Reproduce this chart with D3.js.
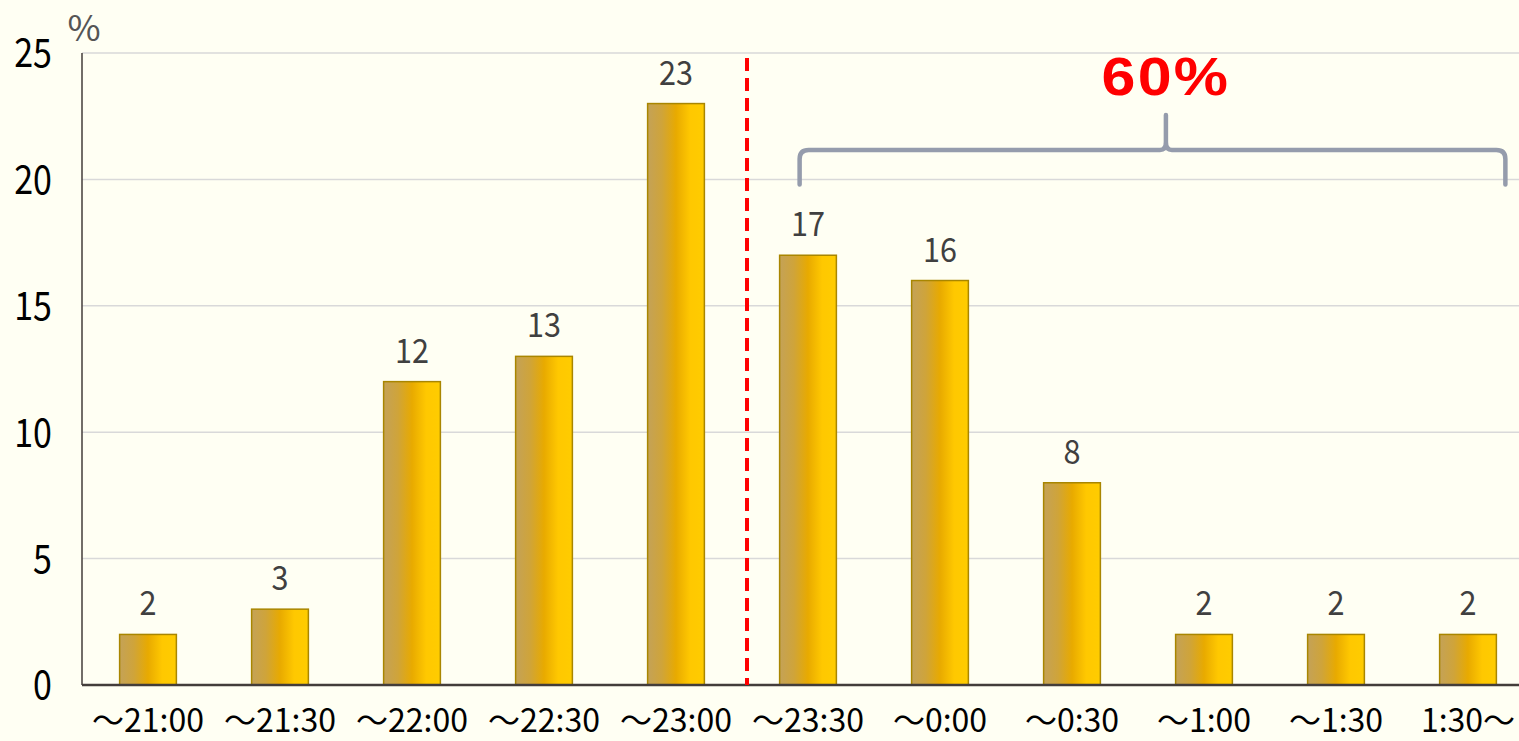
<!DOCTYPE html>
<html>
<head>
<meta charset="utf-8">
<script src="https://cdn.jsdelivr.net/npm/d3@7/dist/d3.min.js"></script>
<style>
  html, body { margin: 0; padding: 0; background: #fffff3; overflow: hidden; }
  svg { display: block; }
</style>
</head>
<body>
<svg id="chart" width="1519" height="741"></svg>
<script>
// Bedtime distribution (%)
const categories = ["～21:00", "～21:30", "～22:00", "～22:30", "～23:00", "～23:30", "～0:00", "～0:30", "～1:00", "～1:30", "1:30～"];
const values = [2, 3, 12, 13, 23, 17, 16, 8, 2, 2, 2];
const yTicks = [0, 5, 10, 15, 20, 25];
const bracketLabel = "60%";
const bracketFrom = 5;   // index of first category in the bracket
const dividerAfter = 4;  // dashed line after this category

const svg = d3.select("#chart");
const W = 1519, H = 741;
const plotLeft = 82, plotRight = 1534, plotTop = 53, plotBottom = 685;

const x = d3.scaleBand().domain(categories).range([plotLeft, plotRight]).paddingInner(0.57).paddingOuter(0.285);
const y = d3.scaleLinear().domain([0, 25]).range([plotBottom, plotTop]);

const font = "'Noto Sans CJK JP', 'Noto Sans', sans-serif";
const cx = d => x(d) + x.bandwidth() / 2;

// horizontally condensed text around an anchor x
const squeeze = (ax, s) => `translate(${ax * (1 - s)},0) scale(${s},1)`;

// gradient for bars
const defs = svg.append("defs");
const grad = defs.append("linearGradient").attr("id", "barGrad").attr("x1", "0").attr("x2", "1").attr("y1", "0").attr("y2", "0");
grad.append("stop").attr("offset", "0%").attr("stop-color", "#c4a257");
grad.append("stop").attr("offset", "25%").attr("stop-color", "#cfa43a");
grad.append("stop").attr("offset", "50%").attr("stop-color", "#e8aa00");
grad.append("stop").attr("offset", "75%").attr("stop-color", "#ffc800");
grad.append("stop").attr("offset", "100%").attr("stop-color", "#ffcc00");

// gridlines
svg.append("g").selectAll("line").data(yTicks.filter(d => d > 0)).join("line")
  .attr("x1", plotLeft).attr("x2", W)
  .attr("y1", d => y(d)).attr("y2", d => y(d))
  .attr("stroke", "#d9d9d9").attr("stroke-width", 1.5);

// y tick labels
svg.append("g").selectAll("text").data(yTicks).join("text")
  .attr("x", 52).attr("y", d => y(d)).attr("dy", "0.36em")
  .attr("text-anchor", "end")
  .attr("font-family", font).attr("font-size", 40)
  .attr("fill", "#000")
  .attr("transform", squeeze(52, 0.85))
  .text(d => d);

// unit label
svg.append("text").attr("x", 84).attr("y", 41).attr("text-anchor", "middle")
  .attr("font-family", font).attr("font-size", 36).attr("fill", "#555")
  .text("%");

// bars
svg.append("g").selectAll("rect").data(values).join("rect")
  .attr("x", (d, i) => x(categories[i]))
  .attr("y", d => y(d))
  .attr("width", x.bandwidth())
  .attr("height", d => y(0) - y(d))
  .attr("fill", "url(#barGrad)")
  .attr("stroke", "#a98600").attr("stroke-width", 1.5);

// value labels
svg.append("g").selectAll("text").data(values).join("text")
  .attr("x", (d, i) => cx(categories[i]))
  .attr("y", d => y(d) - 19)
  .attr("text-anchor", "middle")
  .attr("font-family", font).attr("font-size", 34)
  .attr("fill", "#404040")
  .attr("transform", (d, i) => squeeze(cx(categories[i]), 0.9))
  .text(d => d);

// axis lines
svg.append("line").attr("x1", plotLeft).attr("x2", W).attr("y1", plotBottom).attr("y2", plotBottom)
  .attr("stroke", "#433d3a").attr("stroke-width", 2.5);
svg.append("line").attr("x1", plotLeft).attr("x2", plotLeft).attr("y1", plotTop).attr("y2", plotBottom)
  .attr("stroke", "#433d3a").attr("stroke-width", 1.5);

// x labels
svg.append("g").selectAll("text").data(categories).join("text")
  .attr("x", d => cx(d))
  .attr("y", 732)
  .attr("text-anchor", "middle")
  .attr("font-family", font).attr("font-size", 32)
  .attr("fill", "#000")
  .text(d => d);

// dashed divider
const divX = x(categories[dividerAfter]) + x.bandwidth() + x.step() * x.paddingInner() / 2 + 5;
svg.append("line").attr("x1", divX).attr("x2", divX).attr("y1", y(25) + 5).attr("y2", plotBottom)
  .attr("stroke", "#ff0000").attr("stroke-width", 4).attr("stroke-dasharray", "13,7");

// bracket over later categories
const bx0 = x(categories[bracketFrom]) + 20;
const bx1 = x(categories[categories.length - 1]) + x.bandwidth() + 9;
const bmid = bx0 + (bx1 - bx0) * 0.519;
const byBase = y(20) + 5, byBar = y(21.16), byTip = y(22.55), r = 9;
const path = d3.path();
path.moveTo(bx0, byBase);
path.lineTo(bx0, byBar + r);
path.quadraticCurveTo(bx0, byBar, bx0 + r, byBar);
path.lineTo(bmid - 6, byBar);
path.quadraticCurveTo(bmid, byBar, bmid, byBar - 8);
path.lineTo(bmid, byTip);
path.moveTo(bmid, byBar - 8);
path.quadraticCurveTo(bmid, byBar, bmid + 6, byBar);
path.lineTo(bx1 - r, byBar);
path.quadraticCurveTo(bx1, byBar, bx1, byBar + r);
path.lineTo(bx1, byBase);
svg.append("path").attr("d", path.toString())
  .attr("fill", "none").attr("stroke", "#959cac").attr("stroke-width", 4.5)
  .attr("stroke-linecap", "round").attr("stroke-linejoin", "round");

svg.append("text").attr("x", bmid).attr("y", 95).attr("text-anchor", "middle")
  .attr("font-family", "'Liberation Sans', Arial, sans-serif").attr("font-weight", "bold")
  .attr("font-size", 53).attr("fill", "#ff0000").attr("letter-spacing", 2)
  .attr("transform", squeeze(bmid, 1.15))
  .text(bracketLabel);
</script>
</body>
</html>
